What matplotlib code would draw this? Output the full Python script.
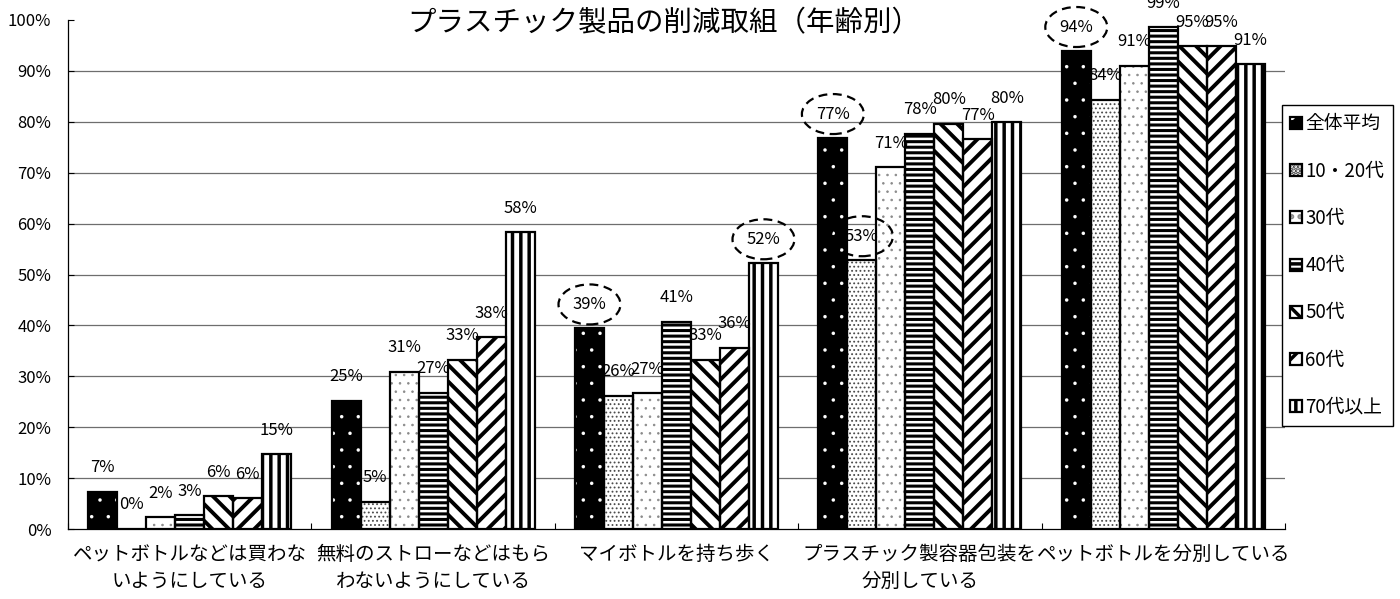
import matplotlib
matplotlib.use("Agg")
import matplotlib.pyplot as plt
import numpy as np
from matplotlib.patches import Ellipse
from matplotlib.transforms import offset_copy
from matplotlib.legend_handler import HandlerTuple

plt.rcParams['font.family'] = ['Noto Sans CJK JP', 'DejaVu Sans']

title = "プラスチック製品の削減取組（年齢別）"
categories = [
    "ペットボトルなどは買わな\nいようにしている",
    "無料のストローなどはもら\nわないようにしている",
    "マイボトルを持ち歩く",
    "プラスチック製容器包装を\n分別している",
    "ペットボトルを分別している",
]
series_names = ["全体平均", "10・20代", "30代", "40代", "50代", "60代", "70代以上"]
values = {
    "全体平均": [7.3, 25.2, 39.4, 76.8, 93.9],
    "10・20代": [0.0, 5.3, 26.2, 52.8, 84.3],
    "30代":     [2.3, 30.9, 26.7, 71.1, 91.0],
    "40代":     [2.7, 26.8, 40.7, 77.6, 98.6],
    "50代":     [6.4, 33.2, 33.3, 79.6, 94.8],
    "60代":     [6.0, 37.7, 35.6, 76.6, 94.8],
    "70代以上": [14.7, 58.3, 52.2, 79.9, 91.3],
}
# highlighted labels: (category index, series name)
highlighted = [(2, "全体平均"), (2, "70代以上"), (3, "全体平均"), (3, "10・20代"), (4, "全体平均")]
yticks = list(range(0, 101, 10))

styles = {
    "全体平均": dict(face="black", hatch=".", hcol="white", hlw=0.1),
    "10・20代": dict(face="white", hatch="....", hcol="#4a4a4a", hlw=0.8),
    "30代":     dict(face="white", hatch="..", hcol="#8a8a8a", hlw=0.6),
    "40代":     dict(face="white", hatch="---", hcol="black", hlw=2.2),
    "50代":     dict(face="white", hatch="\\\\", hcol="black", hlw=2.8),
    "60代":     dict(face="white", hatch="//", hcol="black", hlw=2.8),
    "70代以上": dict(face="white", hatch="||", hcol="black", hlw=2.5),
}

W, H = 1400, 599
fig = plt.figure(figsize=(W / 100, H / 100), dpi=100)
ax = fig.add_axes([68 / W, 1 - 529 / H, (1285 - 68) / W, (529 - 20) / H])

n = len(series_names)
bw = 29 / 243.4
xg = np.arange(len(categories))
label_tr = offset_copy(ax.transData, fig=fig, x=0, y=17.3, units='points')

handles = []
positions = {}
for i, name in enumerate(series_names):
    st = styles[name]
    x = xg + (i - (n - 1) / 2) * bw
    positions[name] = x
    plt.rcParams['hatch.linewidth'] = st["hlw"]
    b1 = ax.bar(x, values[name], bw, color=st["face"], edgecolor=st["hcol"],
                hatch=st["hatch"], linewidth=0, zorder=2)
    for p in b1:
        if hasattr(p, "set_hatch_linewidth"):
            p.set_hatch_linewidth(st["hlw"])
    b2 = ax.bar(x, values[name], bw, fill=False, edgecolor="black", linewidth=1.6, zorder=3)
    handles.append((b1[0], b2[0]))
    for xi, v in zip(x, values[name]):
        ax.text(xi, v, f"{v:.0f}%", transform=label_tr, ha="center", va="center",
                fontsize=12, zorder=5, clip_on=False)

for ci, name in highlighted:
    xi = positions[name][ci]
    v = values[name][ci]
    e = Ellipse((xi, v), width=62 / 243.4, height=40 / 5.09, transform=label_tr,
                fill=False, edgecolor="black", linestyle=(0, (4, 2.5)), linewidth=1.6,
                zorder=6, clip_on=False)
    ax.add_patch(e)

ax.set_xlim(-0.5, len(categories) - 0.5)
ax.set_ylim(0, 100)
ax.set_yticks(yticks)
ax.set_yticklabels([f"{t}%" for t in yticks], fontsize=12)
ax.set_xticks(xg)
ax.set_xticklabels(categories, fontsize=14, linespacing=1.35)
ax.set_xticks(np.arange(-0.5, len(categories), 1.0), minor=True)
ax.tick_params(axis="x", which="major", length=0, pad=11)
ax.tick_params(axis="x", which="minor", direction="in", length=4, width=0.8)
ax.tick_params(axis="y", direction="in", length=4, width=0.8, pad=12)
ax.yaxis.grid(True, color="#6e6e6e", linewidth=0.9)
ax.set_axisbelow(True)
gl = ax.yaxis.get_gridlines()
gl[0].set_visible(False)
gl[-1].set_visible(False)
for s in ("top", "right"):
    ax.spines[s].set_visible(False)
for s in ("left", "bottom"):
    ax.spines[s].set_linewidth(0.9)

fig.text(664 / W, 1 - 23 / H, title, ha="center", va="center", fontsize=20.5)

leg = fig.legend(handles, series_names, handler_map={tuple: HandlerTuple(ndivide=1)},
                 loc="upper left", bbox_to_anchor=(1282 / W, 1 - 105 / H),
                 bbox_transform=fig.transFigure, borderaxespad=0, fontsize=13.5,
                 handlelength=0.6, handleheight=0.6, handletextpad=0.2,
                 labelspacing=1.4, borderpad=0.45, fancybox=False, framealpha=1,
                 edgecolor="black")
leg.get_frame().set_linewidth(1.0)

fig.savefig("out.png", dpi=100)
